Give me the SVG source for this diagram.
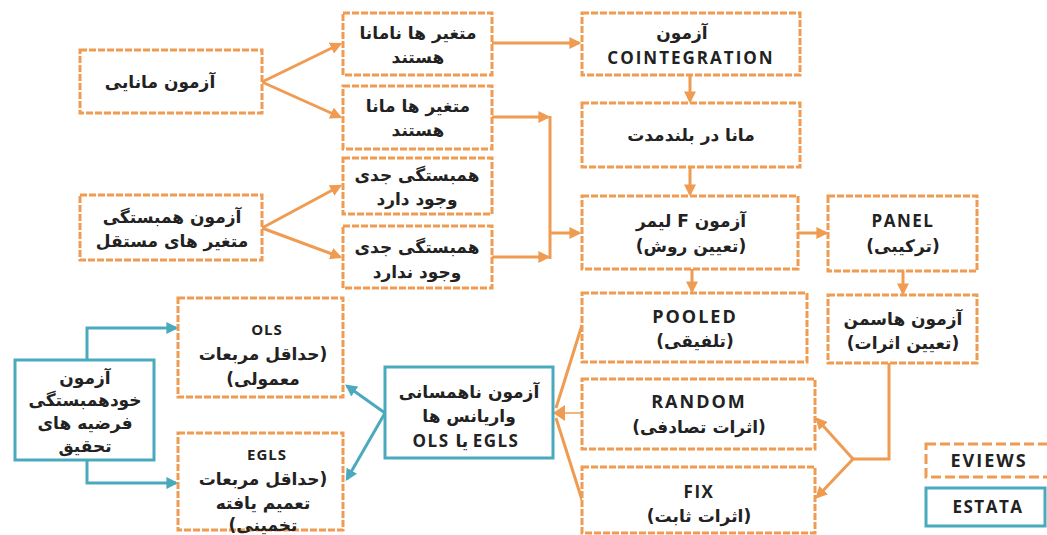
<svg xmlns="http://www.w3.org/2000/svg" width="1047" height="535" viewBox="0 0 1047 535">
<style>
.ob{fill:#fff;stroke:#EF9B52;stroke-width:3;stroke-dasharray:7 2}
.bb{fill:#fff;stroke:#4BA9BE;stroke-width:3}
.t{font-family:"DejaVu Sans",sans-serif;font-weight:700;font-size:17px;fill:#222;text-anchor:middle}
.L{font-family:"Open Sans","DejaVu Sans",sans-serif;font-weight:700;font-size:17px;letter-spacing:1.5px;fill:#222;text-anchor:middle}
.s{font-size:15px;letter-spacing:1px}
.g{font-size:18px;letter-spacing:2px}
.oc{fill:none;stroke:#EF9B52;stroke-width:3}
.bc{fill:none;stroke:#4BA9BE;stroke-width:3}
</style>
<defs>
<marker id="ao" viewBox="0 0 10 10" refX="8" refY="5" markerWidth="4" markerHeight="4" orient="auto" markerUnits="strokeWidth"><path d="M0,0 L10,5 L0,10 z" fill="#EF9B52"/></marker>
<marker id="ab" viewBox="0 0 10 10" refX="8" refY="5" markerWidth="4" markerHeight="4" orient="auto" markerUnits="strokeWidth"><path d="M0,0 L10,5 L0,10 z" fill="#4BA9BE"/></marker>
</defs>
<rect width="1047" height="535" fill="#fff"/>
<g id="connectors">
<path class="oc" d="M262,82 L340,44" marker-end="url(#ao)"/>
<path class="oc" d="M262,82 L340,117" marker-end="url(#ao)"/>
<path class="oc" d="M262,228 L340,186" marker-end="url(#ao)"/>
<path class="oc" d="M262,228 L340,257" marker-end="url(#ao)"/>
<path class="oc" d="M492,43 L579,43" marker-end="url(#ao)"/>
<path class="oc" d="M492,117 L548,117" marker-end="url(#ao)"/>
<path class="oc" d="M550,116 L550,259"/>
<path class="oc" d="M492,257 L548,257" marker-end="url(#ao)"/>
<path class="oc" d="M550,233 L579,233" marker-end="url(#ao)"/>
<path class="oc" d="M690,75 L690,101" marker-end="url(#ao)"/>
<path class="oc" d="M690,167 L690,194" marker-end="url(#ao)"/>
<path class="oc" d="M692,269 L692,291" marker-end="url(#ao)"/>
<path class="oc" d="M798,233 L826,233" marker-end="url(#ao)"/>
<path class="oc" d="M903,271 L903,293" marker-end="url(#ao)"/>
<path class="oc" d="M889,363 L889,459 L853,459"/>
<path class="oc" d="M853,459 L817,419" marker-end="url(#ao)"/>
<path class="oc" d="M853,459 L817,497" marker-end="url(#ao)"/>
<path class="oc" d="M582,325 L556,408"/>
<path class="oc" d="M582,500 L556,418"/>
<path class="oc" style="stroke-width:1.5" d="M582,413 L560,413"/>
<path d="M553,413 L565,405 L565,421 z" fill="#EF9B52"/>
<path class="bc" d="M87,360 L87,328 L176,328" marker-end="url(#ab)"/>
<path class="bc" d="M87,460 L87,483 L176,483" marker-end="url(#ab)"/>
<path class="bc" d="M385,413 L347,386" marker-end="url(#ab)"/>
<path class="bc" d="M385,413 L347,479" marker-end="url(#ab)"/>
</g>
<g id="n-manaei"><rect class="ob" x="80" y="50" width="182" height="63"/><text class="t" x="160" y="88">آزمون مانایی</text></g>
<g id="n-namana"><rect class="ob" x="343" y="13" width="149" height="62"/><text class="t" x="418" y="39">متغیر ها نامانا</text><text class="t" x="418" y="63">هستند</text></g>
<g id="n-mana"><rect class="ob" x="343" y="86" width="149" height="63"/><text class="t" x="418" y="112">متغیر ها مانا</text><text class="t" x="418" y="136">هستند</text></g>
<g id="n-hamdarad"><rect class="ob" x="343" y="158" width="149" height="56"/><text class="t" x="417" y="181">همبستگی جدی</text><text class="t" x="417" y="205">وجود دارد</text></g>
<g id="n-hamnadarad"><rect class="ob" x="343" y="226" width="149" height="62"/><text class="t" x="417" y="253">همبستگی جدی</text><text class="t" x="417" y="278">وجود ندارد</text></g>
<g id="n-hambastegi"><rect class="ob" x="80" y="195" width="182" height="65"/><text class="t" x="172" y="223">آزمون همبستگی</text><text class="t" x="172" y="247">متغیر های مستقل</text></g>
<g id="n-coint"><rect class="ob" x="582" y="13" width="218" height="62"/><text class="t" x="682" y="39">آزمون</text><text class="L" style="letter-spacing:2px" x="691" y="64">COINTEGRATION</text></g>
<g id="n-boland"><rect class="ob" x="582" y="103" width="218" height="64"/><text class="t" x="691" y="141">مانا در بلندمدت</text></g>
<g id="n-flimer"><rect class="ob" x="582" y="196" width="216" height="73"/><text class="t" x="691" y="227">لیمر F آزمون</text><text class="t" x="691" y="252">(تعیین روش)</text></g>
<g id="n-panel"><rect class="ob" x="828" y="196" width="149" height="75"/><text class="L" x="903" y="227">PANEL</text><text class="t" x="903" y="252">(ترکیبی)</text></g>
<g id="n-hausman"><rect class="ob" x="828" y="295" width="149" height="68"/><text class="t" x="903" y="325">آزمون هاسمن</text><text class="t" x="903" y="349">(تعیین اثرات)</text></g>
<g id="n-pooled"><rect class="ob" x="582" y="293" width="225" height="69"/><text class="L g" x="695" y="323">POOLED</text><text class="t" x="695" y="347">(تلفیقی)</text></g>
<g id="n-random"><rect class="ob" x="582" y="379" width="233" height="70"/><text class="L g" x="699" y="408">RANDOM</text><text class="t" x="699" y="433">(اثرات تصادفی)</text></g>
<g id="n-fix"><rect class="ob" x="582" y="467" width="233" height="66"/><text class="L" x="699" y="498">FIX</text><text class="t" x="699" y="522">(اثرات ثابت)</text></g>
<g id="n-ols"><rect class="ob" x="178" y="298" width="165" height="99"/><text class="L s" x="267" y="335">OLS</text><text class="t" direction="rtl" x="263" y="360">(حداقل مربعات</text><text class="t" direction="rtl" x="263" y="385">معمولی)</text></g>
<g id="n-egls"><rect class="ob" x="178" y="433" width="165" height="97"/><text class="L s" x="267" y="460">EGLS</text><text class="t" direction="rtl" x="263" y="485">(حداقل مربعات</text><text class="t" x="263" y="509">تعمیم یافته</text><text class="t" direction="rtl" x="263" y="531">تخمینی)</text></g>
<g id="n-khod"><rect class="bb" x="15" y="360" width="139" height="100"/><text class="t" x="85" y="384">آزمون</text><text class="t" x="85" y="406">خودهمبستگی</text><text class="t" x="85" y="429">فرضیه های</text><text class="t" x="85" y="452">تحقیق</text></g>
<g id="n-nahamsani"><rect class="bb" x="385" y="367" width="168" height="91"/><text class="t" x="469" y="398">آزمون ناهمسانی</text><text class="t" x="469" y="422">واریانس ها</text><text class="L" x="466" y="447">OLS <tspan font-family="DejaVu Sans">یا</tspan> EGLS</text></g>
<g id="legend-eviews"><rect class="ob" style="stroke-dasharray:10 4" x="926" y="444" width="124" height="33"/><text class="L g" x="989" y="467">EVIEWS</text></g>
<g id="legend-estata"><rect class="bb" x="926" y="488" width="119" height="38"/><text class="L" x="988" y="513">ESTATA</text></g>
</svg>
